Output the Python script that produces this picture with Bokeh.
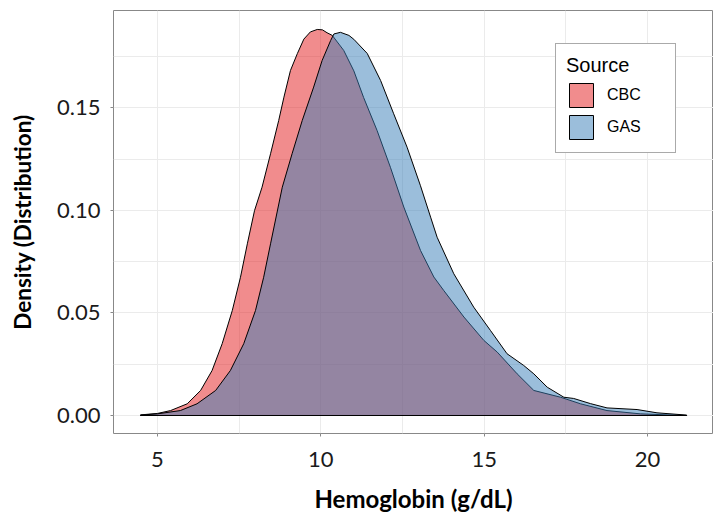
from bokeh.plotting import figure
from bokeh.models import (Legend, LegendItem, FixedTicker, PrintfTickFormatter,
                          Range1d, Arrow)
from bokeh.embed import file_html
from bokeh.resources import INLINE

# ---- data (Hemoglobin g/dL vs density) ----
cbc_x = [4.48, 5.0, 5.40, 5.91, 6.32, 6.67, 6.98, 7.29, 7.54, 7.75, 7.97, 8.20,
         8.46, 8.71, 8.87, 9.07, 9.28, 9.48, 9.68, 9.89, 10.05, 10.19, 10.35,
         10.70, 11.01, 11.31, 11.72, 12.13, 12.54, 13.05, 13.46, 13.76, 14.38,
         14.99, 15.40, 16.01, 16.52, 17.34, 17.95, 18.76, 19.78, 20.6, 21.2]
cbc_d = [0.0003, 0.0010, 0.0024, 0.0057, 0.0122, 0.0219, 0.0350, 0.0512, 0.0674,
         0.0837, 0.0999, 0.1113, 0.1276, 0.1438, 0.1552, 0.1682, 0.1764, 0.1835,
         0.1870, 0.1882, 0.1880, 0.1866, 0.1853, 0.178, 0.168, 0.155, 0.139,
         0.121, 0.1016, 0.0805, 0.0675, 0.061, 0.048, 0.0366, 0.0309, 0.0203,
         0.0122, 0.0089, 0.0057, 0.0024, 0.0008, 0.0003, 0.0]

gas_x = [4.48, 5.0, 5.70, 6.21, 6.78, 7.23, 7.64, 8.0, 8.25, 8.46, 8.82, 9.12,
         9.43, 9.78, 10.04, 10.30, 10.40, 10.6, 10.86, 11.01, 11.42, 11.83,
         12.23, 12.64, 13.05, 13.36, 13.56, 14.07, 14.68, 15.19, 15.70, 16.21,
         16.52, 16.93, 17.44, 17.74, 18.25, 18.76, 19.68, 20.29, 21.2]
gas_d = [0.0002, 0.0008, 0.0024, 0.0057, 0.0122, 0.0219, 0.0350, 0.0512, 0.0674,
         0.0837, 0.1113, 0.1276, 0.1438, 0.1601, 0.1731, 0.1828, 0.1860, 0.1868,
         0.1853, 0.1834, 0.1765, 0.1633, 0.1471, 0.1308, 0.112, 0.0967, 0.0869,
         0.0691, 0.0528, 0.0415, 0.0301, 0.0244, 0.0203, 0.0138, 0.0089, 0.0083,
         0.0058, 0.0037, 0.0029, 0.0013, 0.0002]

series_names = ["CBC", "GAS"]
series_colors = ["#E41A1C", "#377EB8"]
x_ticks = [5, 10, 15, 20]
x_minor = [7.5, 12.5, 17.5]
y_ticks = [0.0, 0.05, 0.10, 0.15]
y_minor = [0.025, 0.075, 0.125, 0.175]

FONT = "Lato"

p = figure(frame_width=600, frame_height=423,
           x_range=Range1d(3.653, 22.02), y_range=Range1d(-0.00878, 0.19744),
           output_backend="svg", toolbar_location=None,
           min_border_left=113, min_border_right=0, min_border_top=10,
           min_border_bottom=78)

p.background_fill_color = "white"
p.border_fill_color = "white"
p.outline_line_color = "#888888"
p.outline_line_width = 1

p.xaxis.ticker = FixedTicker(ticks=x_ticks, minor_ticks=x_minor)
p.yaxis.ticker = FixedTicker(ticks=y_ticks, minor_ticks=y_minor)
p.yaxis.formatter = PrintfTickFormatter(format="%.2f")

for g in (p.xgrid, p.ygrid):
    g.grid_line_color = "#EBEBEB"
    g.grid_line_width = 1
    g.minor_grid_line_color = "#EBEBEB"
    g.minor_grid_line_width = 1

for ax in (p.xaxis, p.yaxis):
    ax.axis_line_color = None
    ax.major_tick_out = 3
    ax.major_tick_in = 0
    ax.minor_tick_out = 0
    ax.minor_tick_in = 0
    ax.major_tick_line_color = "#888888"
    ax.major_label_text_font = FONT
    ax.major_label_text_font_size = "22px"
    ax.major_label_text_color = "#1a1a1a"
    ax.axis_label_text_font = FONT
    ax.axis_label_text_font_style = "bold"
    ax.axis_label_text_color = "black"

p.xaxis.axis_label = "Hemoglobin (g/dL)"
p.yaxis.axis_label = "Density (Distribution)"
p.xaxis.axis_label_text_font_size = "24px"
p.yaxis.axis_label_text_font_size = "22.5px"
p.xaxis.major_label_standoff = 15
p.yaxis.major_label_standoff = 10
p.xaxis.axis_label_standoff = 14
p.yaxis.axis_label_standoff = 18

renderers = []
for xs, ds, col in ((cbc_x, cbc_d, series_colors[0]), (gas_x, gas_d, series_colors[1])):
    px = [xs[0]] + list(xs) + [xs[-1]]
    py = [0.0] + list(ds) + [0.0]
    r = p.patch(px, py, fill_color=col, fill_alpha=0.5,
                line_color="black", line_width=1, line_join="round")
    renderers.append(r)

legend = Legend(items=[LegendItem(label=n, renderers=[r])
                       for n, r in zip(series_names, renderers)],
                location=(442, 280))
legend.title = "Source"
legend.title_text_font = "Liberation Sans"
legend.title_text_font_size = "20px"
legend.title_text_font_style = "normal"
legend.title_text_color = "black"
legend.title_standoff = 3
legend.label_text_font = "Liberation Sans"
legend.label_text_font_size = "16px"
legend.label_text_color = "black"
legend.glyph_width = 30
legend.glyph_height = 30
legend.label_height = 30
legend.label_standoff = 11
legend.label_width = 58
legend.spacing = 2
legend.padding = 10
legend.margin = 0
legend.border_line_color = "#555555"
legend.border_line_width = 1
legend.background_fill_color = "white"
legend.background_fill_alpha = 1
p.add_layout(legend)

# thin stray axis line left of the panel, as in the reference
p.add_layout(Arrow(end=None, x_start=-10, y_start=-10, x_end=-10, y_end=430,
                   start_units="screen", end_units="screen",
                   line_color="#c8c8c8", line_width=1))

open("out.html", "w").write(file_html(p, INLINE))
